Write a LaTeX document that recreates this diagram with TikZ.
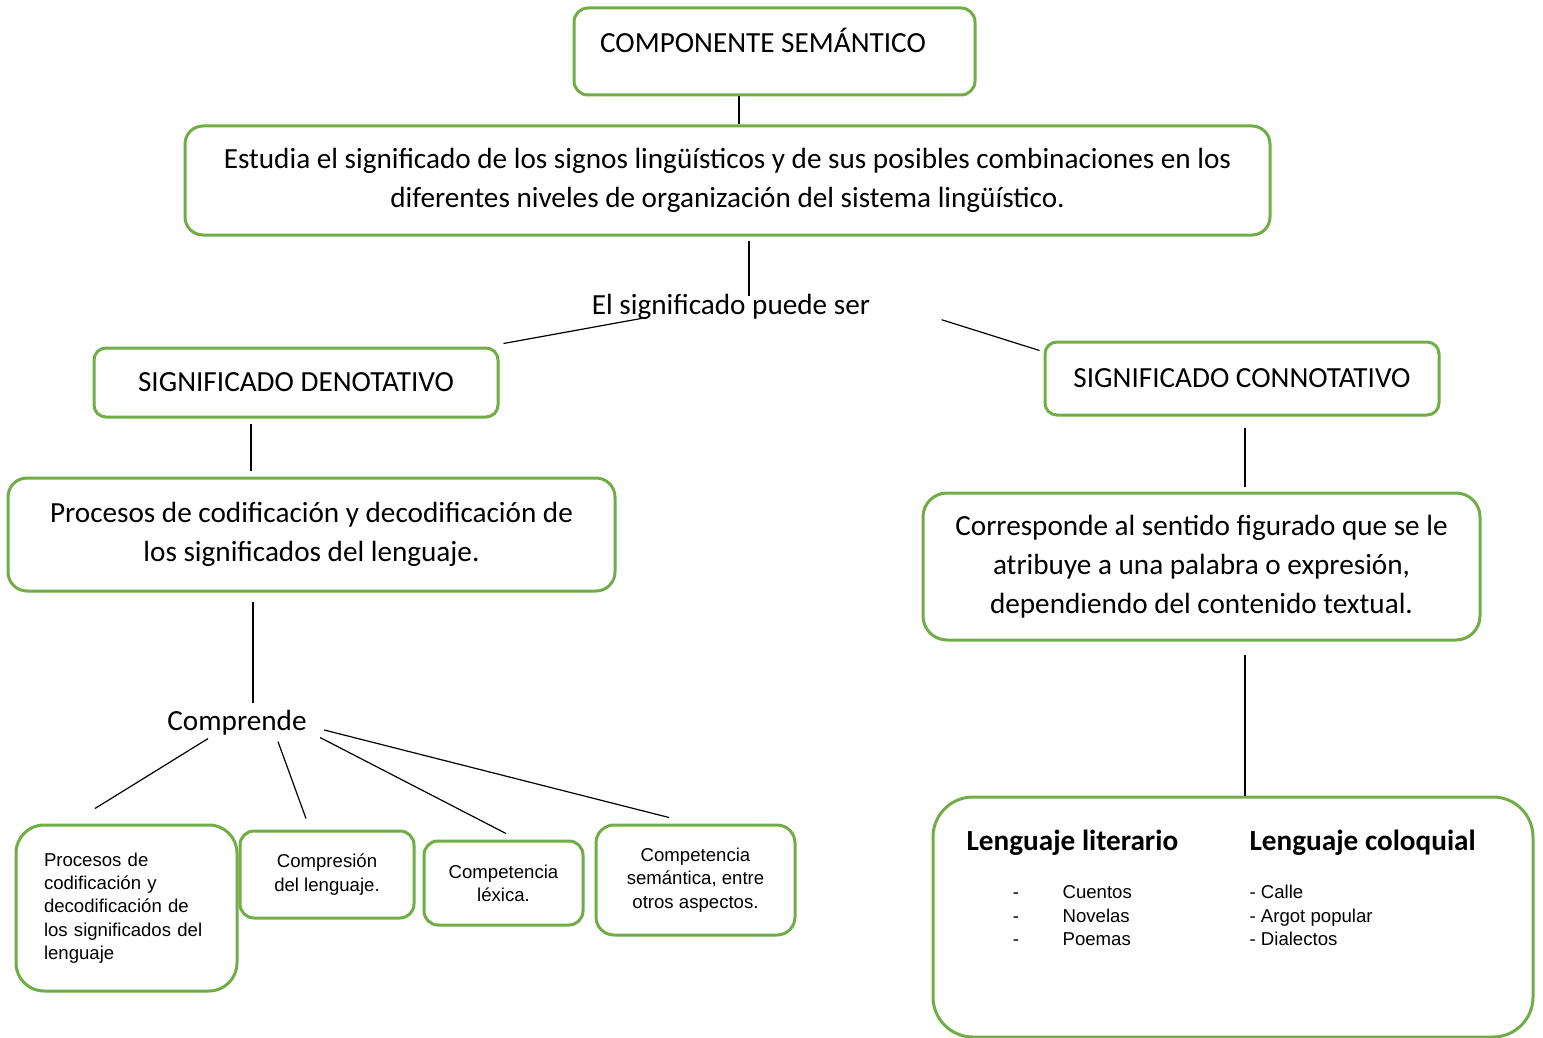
\documentclass[tikz,border=0pt]{standalone}
\usepackage{fontspec}
\setmainfont{Carlito}
\newfontfamily\arialfont{Liberation Sans}
\usetikzlibrary{positioning}
\definecolor{green}{RGB}{112,173,71}
\newcommand{\mainsize}{\fontsize{14.6}{19.5}\selectfont}
\newcommand{\smallsize}{\fontsize{9.3}{11.6}\selectfont}

\begin{document}
\begin{tikzpicture}[x=0.5pt, y=-0.5pt, line width=0.6pt,
    box/.style={draw=green, line width=1.5pt, rounded corners=#1},
    box/.default=7pt,
    txt/.style={font=\mainsize, align=center},
    small/.style={font=\arialfont\smallsize, align=center}]
    \useasboundingbox (0,0) rectangle (1543,1038);

    % draw top boxes
    \node[box, minimum width=200.5pt, minimum height=43.5pt] (sem) at (774.5,51.5) {};
    \node[txt] (semtxt) at (763,40) {COMPONENTE SEMÁNTICO};
    \node[box=9pt, txt, minimum width=542.5pt, minimum height=54.5pt] (est) at (727.5,180.5)
      {Estudia el significado de los signos lingüísticos y de sus posibles combinaciones en los\\diferentes niveles de organización del sistema lingüístico.};
    \node[txt, inner sep=0] (sig) at (731,307) {El significado puede ser};

    % draw middle boxes
    \node[box=6pt, txt, minimum width=202pt, minimum height=34.5pt] (deno) at (296,382.5) {SIGNIFICADO DENOTATIVO};
    \node[box=6pt, txt, minimum width=197pt, minimum height=36.5pt] (conno) at (1242,378.5) {SIGNIFICADO CONNOTATIVO};
    \node[box=9.5pt, txt, minimum width=303.5pt, minimum height=56.5pt] (proc) at (311.5,534.5)
      {Procesos de codificación y decodificación de\\los significados del lenguaje.};
    \node[box=12pt, txt, minimum width=278.5pt, minimum height=73.5pt] (corr) at (1201.5,566.5)
      {Corresponde al sentido figurado que se le\\atribuye a una palabra o expresión,\\dependiendo del contenido textual.};
    \node[txt, inner sep=0] (comp) at (237,723) {Comprende};

    % draw small boxes
    \node[box=14pt, small, align=left, text width=82.5pt, inner xsep=14pt, minimum height=83pt] (cod) at (126.5,908)
      {Procesos de\\codificación y\\decodificación de\\los significados del\\lenguaje};
    \node[box=7pt, small, minimum width=87pt, minimum height=43.5pt] (compr) at (327,874.5) {Compresión\\del lenguaje.};
    \node[box=7pt, small, minimum width=79.5pt, minimum height=42pt] (lex) at (503.5,883) {Competencia\\léxica.};
    \node[box=9pt, small, minimum width=99.5pt, minimum height=55pt] (sema) at (695.5,880) {Competencia\\semántica, entre\\otros aspectos.};

    % draw language box
    \node[box=20pt, minimum width=300pt, minimum height=120pt] (leng) at (1233,917) {};
    \node[txt, font=\mainsize\bfseries, anchor=base west, inner sep=0] (lit) at (966,850) {Lenguaje literario};
    \node[txt, font=\mainsize\bfseries, anchor=base west, inner sep=0] (colo) at (1249,850) {Lenguaje coloquial};
    \foreach \w [count=\i] in {Cuentos,Novelas,Poemas} {
      \node[small, anchor=base, inner sep=0] (dash\i) at (1016,{875.3+23.5*\i}) {-};
      \node[small, anchor=base west, inner sep=0] (lit\i) at (1062,{875.3+23.5*\i}) {\w};
    }
    \foreach \w [count=\i] in {Calle,Argot popular,Dialectos}
      \node[small, anchor=base west, inner sep=0] (colo\i) at (1249,{875.3+23.5*\i}) {- \w};

    % draw connectors
    \draw ([xshift=-17.75pt]sem.south) -- ([xshift=5.75pt]est.north);
    \draw ([xshift=10.75pt,yshift=-2pt]est.south) -- ([xshift=9pt,yshift=-1.25pt]sig.north);
    \draw ([xshift=-41.5pt,yshift=1.5pt]sig.south) -- ([shift={(2pt,1.5pt)}]deno.north east);
    \draw ([shift={(35.5pt,0.25pt)}]sig.south east) -- ([shift={(-2pt,-5pt)}]conno.north west);
    \draw ([xshift=-22.5pt,yshift=-2.5pt]deno.south) -- ([xshift=-30.25pt,yshift=3pt]proc.north);
    \draw ([xshift=-29.25pt,yshift=-4.5pt]proc.south) -- ([xshift=8pt,yshift=3.25pt]comp.north);
    \draw ([xshift=-14.5pt,yshift=-1.25pt]comp.south) -- ([xshift=-15.75pt,yshift=7.5pt]cod.north);
    \draw ([xshift=20.5pt,yshift=-2.75pt]comp.south) -- ([xshift=-10.5pt,yshift=5.5pt]compr.north);
    \draw ([shift={(6.5pt,-0.75pt)}]comp.south east) -- ([xshift=1.25pt,yshift=3pt]lex.north);
    \draw ([shift={(8.5pt,-3.5pt)}]comp.east) -- ([xshift=-13.25pt,yshift=3pt]sema.north);
    \draw ([xshift=1.5pt,yshift=-5.5pt]conno.south) -- ([xshift=21.75pt,yshift=2.5pt]corr.north);
    \draw ([xshift=21.75pt,yshift=-6.5pt]corr.south) -- ([xshift=6pt]leng.north);
\end{tikzpicture}
\end{document}
